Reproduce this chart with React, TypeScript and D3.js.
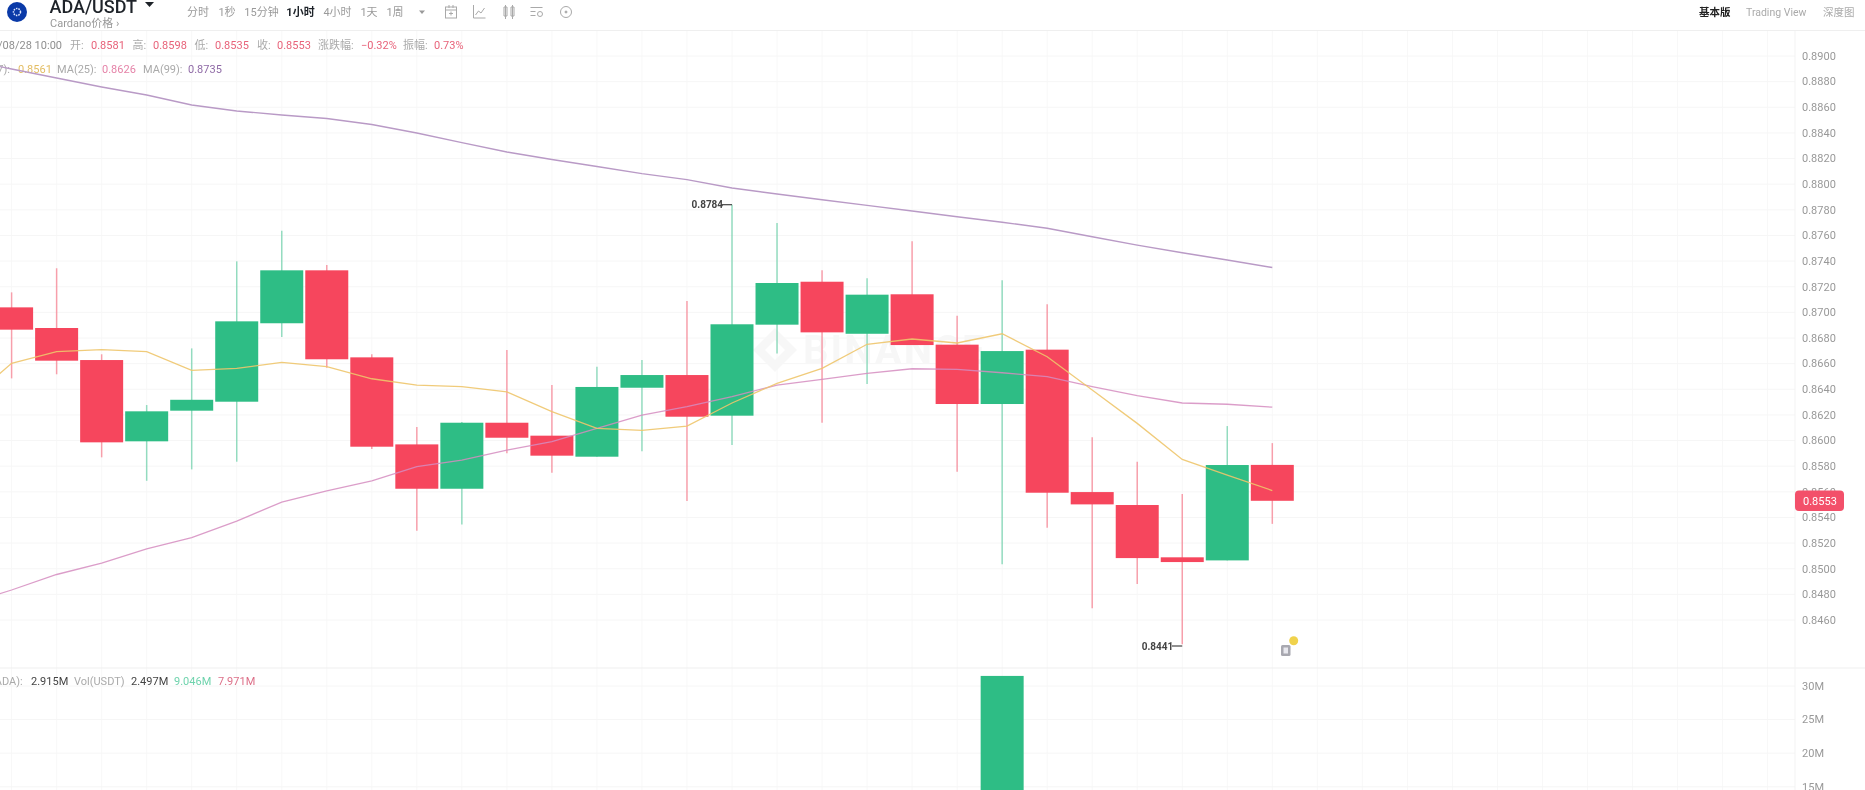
import React from "react";
import * as d3 from "d3";

const opens = [0.87039,0.86878,0.86628,0.85994,0.86233,0.86303,0.86915,0.87328,0.86649,0.8597,0.85624,0.86139,0.86038,0.85874,0.86412,0.86511,0.86194,0.86904,0.87239,0.86833,0.87141,0.86748,0.86285,0.86709,0.85598,0.85497,0.85089,0.85065,0.8581];
const highs = [0.87156,0.87344,0.86673,0.86277,0.86719,0.87398,0.87636,0.87369,0.86673,0.86105,0.86144,0.86706,0.86433,0.86576,0.86628,0.87089,0.8784,0.87697,0.87328,0.87266,0.87554,0.86974,0.8725,0.87063,0.86025,0.85835,0.85583,0.86113,0.8598];
const lows = [0.86485,0.86517,0.85869,0.85686,0.85775,0.85835,0.86808,0.86568,0.85934,0.85296,0.85346,0.859,0.85749,0.85874,0.85916,0.85528,0.85965,0.8668,0.86139,0.86441,0.86745,0.85757,0.85034,0.8532,0.84691,0.84881,0.8441,0.85065,0.8535];
const closes = [0.86865,0.86623,0.85986,0.86228,0.86318,0.8693,0.87328,0.86634,0.85952,0.85624,0.86139,0.86022,0.85882,0.86418,0.86511,0.86186,0.86907,0.87229,0.86844,0.87138,0.86745,0.86285,0.86698,0.85593,0.85502,0.85083,0.85052,0.85809,0.8553];
// moving averages start one candle before the first visible candle
const ma7 = [0.863,0.86602,0.86693,0.86709,0.86693,0.86548,0.86563,0.8661,0.86576,0.86482,0.86433,0.8642,0.86379,0.86225,0.86095,0.8608,0.86113,0.86293,0.86446,0.86563,0.86751,0.86792,0.86761,0.86833,0.86654,0.86394,0.86134,0.85853,0.85731,0.8561];
const ma25 = [0.84724,0.84834,0.84955,0.85044,0.85154,0.85242,0.85372,0.8552,0.85608,0.85686,0.85796,0.85848,0.85926,0.85991,0.86095,0.86199,0.86264,0.86342,0.86433,0.86478,0.86524,0.8656,0.86556,0.86529,0.86498,0.8642,0.8635,0.86293,0.86283,0.8626];
const ma99 = [0.88969,0.88899,0.88828,0.88758,0.88696,0.88618,0.88571,0.8854,0.88512,0.88466,0.88399,0.88324,0.88251,0.88193,0.88138,0.88082,0.88036,0.8797,0.87923,0.87879,0.87835,0.87791,0.87746,0.87703,0.87656,0.8759,0.87525,0.87465,0.87408,0.8735];
const priceTicks = [0.89,0.888,0.886,0.884,0.882,0.88,0.878,0.876,0.874,0.872,0.87,0.868,0.866,0.864,0.862,0.86,0.858,0.856,0.854,0.852,0.85,0.848,0.846];
const volumeTicks = [30,25,20,15];
const volumeIndex = [22];
const volumeValues = [31.5];
const intervals = ["分时","1秒","15分钟","1小时","4小时","1天","1周"];
const lastPrice = 0.8553;

const GREEN = "#2ebd85";
const RED = "#f6465d";
const FONT = "Roboto, 'Noto Sans CJK SC', sans-serif";

const x = d3.scaleLinear().domain([0, 28]).range([11.6, 1272.3]);
const y = d3.scaleLinear().domain([0.89, 0.846]).range([56, 620]);
const yVol = d3.scaleLinear().domain([30, 15]).range([686, 786.8]);
const BODY = 43;
const gridCols = d3.range(0, 40);

const lineGen = d3.line<number>().x((_, i) => x(i - 1)).y((d) => y(d));

type T = { x: number; y: number; s: string; c: string; w?: number; a?: string; fs?: number };
const texts: T[] = [
  { x: 62, y: 45, s: "5/08/28 10:00", c: "#8f8f8f", a: "end" },
  { x: 70, y: 45, s: "开:", c: "#aaaaaa" },
  { x: 91, y: 45, s: "0.8581", c: "#e8637a" },
  { x: 132.5, y: 45, s: "高:", c: "#aaaaaa" },
  { x: 153, y: 45, s: "0.8598", c: "#e8637a" },
  { x: 194.5, y: 45, s: "低:", c: "#aaaaaa" },
  { x: 215, y: 45, s: "0.8535", c: "#e8637a" },
  { x: 257, y: 45, s: "收:", c: "#aaaaaa" },
  { x: 277, y: 45, s: "0.8553", c: "#e8637a" },
  { x: 318, y: 45, s: "涨跌幅:", c: "#aaaaaa" },
  { x: 361, y: 45, s: "−0.32%", c: "#e8637a" },
  { x: 403, y: 45, s: "振幅:", c: "#aaaaaa" },
  { x: 434, y: 45, s: "0.73%", c: "#e8637a" },
  { x: 10, y: 69, s: "MA(7):", c: "#aaaaaa", a: "end" },
  { x: 18, y: 69, s: "0.8561", c: "#e3bd63" },
  { x: 57, y: 69, s: "MA(25):", c: "#aaaaaa" },
  { x: 102, y: 69, s: "0.8626", c: "#e583a8" },
  { x: 143, y: 69, s: "MA(99):", c: "#aaaaaa" },
  { x: 188, y: 69, s: "0.8735", c: "#8f6aa6" },
  { x: 22.7, y: 681.5, s: "Vol(ADA):", c: "#aaaaaa", a: "end" },
  { x: 31, y: 681.5, s: "2.915M", c: "#444444" },
  { x: 74, y: 681.5, s: "Vol(USDT)", c: "#aaaaaa" },
  { x: 131, y: 681.5, s: "2.497M", c: "#444444" },
  { x: 174, y: 681.5, s: "9.046M", c: "#6fd3ad" },
  { x: 218, y: 681.5, s: "7.971M", c: "#dd7089" },
  { x: 1699, y: 12, s: "基本版", c: "#222222", w: 700, fs: 10.5 },
  { x: 1746, y: 12, s: "Trading View", c: "#aaaaaa", fs: 10.5 },
  { x: 1823, y: 12, s: "深度图", c: "#aaaaaa", fs: 10.5 },
];
const intervalPos = [198, 227, 261.5, 300.5, 337.5, 369, 395];

export default function App() {
  return (
    <svg width={1865} height={790} style={{ position: "fixed", left: 0, top: 0, background: "#fff", filter: "blur(0.4px)" }} fontFamily={FONT}>
      {gridCols.map((i) => (
        <line key={i} x1={x(i)} x2={x(i)} y1={31} y2={790} stroke="#f8f8f8" />
      ))}
      {priceTicks.map((t) => (
        <line key={t} x1={0} x2={1795} y1={y(t)} y2={y(t)} stroke="#f6f6f6" />
      ))}
      {volumeTicks.map((t) => (
        <line key={t} x1={0} x2={1795} y1={yVol(t)} y2={yVol(t)} stroke="#f6f6f6" />
      ))}
      <line x1={0} x2={1865} y1={30.5} y2={30.5} stroke="#efefef" />
      <line x1={0} x2={1865} y1={668} y2={668} stroke="#efefef" />
      <line x1={1795} x2={1795} y1={31} y2={790} stroke="#f3f3f3" />

      {/* watermark */}
      <g fill="#f7f7f7">
        <path d="M775 328 l22 22 l-22 22 l-22 -22 z M775 340 l-10 10 l10 10 l10 -10 z" fillRule="evenodd" />
        <text x={803} y={364} fontSize={40} fontWeight={700} letterSpacing={2}>BINANCE</text>
      </g>

      {/* header */}
      <circle cx={17} cy={12} r={10} fill="#0a3aa8" />
      <circle cx={17} cy={12} r={3.5} fill="none" stroke="#dfe8ff" strokeWidth={1.5} strokeDasharray="1.5 1" />
      <text x={49.5} y={12.5} fontSize={18} fontWeight={500} fill="#1e2329">ADA/USDT</text>
      <path d="M145 2 h9 l-4.5 5 z" fill="#1e2329" />
      <text x={50} y={27} fontSize={11} fill="#999999">Cardano价格 ›</text>
      {intervals.map((s, i) => (
        <text key={s} x={intervalPos[i]} y={16} fontSize={11} textAnchor="middle" fontWeight={s === "1小时" ? 700 : 400} fill={s === "1小时" ? "#1e2329" : "#9a9a9a"}>{s}</text>
      ))}
      <path d="M419 10.5 h6 l-3 3.5 z" fill="#9a9a9a" />
      <g fill="none" stroke="#a9a9a9" strokeWidth={1}>
        <rect x={445.5} y={7} width={11} height={11} />
        <path d="M445.5 10 h11 M449 5 v3 M453 5 v3 M451 11.5 v4 M449 13.5 h4" />
        <path d="M473.5 5 v13 h12 M475.5 15 l3 -4 l2.5 2 l3.5 -5" />
        <path d="M504 7 h3 v9 h-3 z M505.5 5 v14 M511 7 h3 v9 h-3 z M512.5 5 v14" />
        <path d="M530.5 7.5 h12 M530.5 11.5 h5 M530.5 15.5 h5" />
        <circle cx={540} cy={14} r={2.5} />
        <circle cx={566} cy={12} r={5.5} />
        <circle cx={566} cy={12} r={1} fill="#a9a9a9" />
      </g>

      {texts.map((t, i) => (
        <text key={i} x={t.x} y={t.y} dy="0.35em" fontSize={t.fs ?? 11} fill={t.c} fontWeight={t.w ?? 400} textAnchor={(t.a as any) ?? "start"}>{t.s}</text>
      ))}

      {/* candles */}
      {opens.map((o, i) => {
        const c = closes[i];
        const col = c >= o ? GREEN : RED;
        return (
          <g key={i}>
            <line x1={x(i)} x2={x(i)} y1={y(highs[i])} y2={y(lows[i])} stroke={col} strokeOpacity={0.5} strokeWidth={1.5} />
            <rect x={x(i) - BODY / 2} width={BODY} y={y(Math.max(o, c))} height={Math.abs(y(o) - y(c))} fill={col} />
          </g>
        );
      })}

      {/* moving averages */}
      <path d={lineGen(ma25) ?? ""} fill="none" stroke="#d58cc0" strokeWidth={1.3} strokeOpacity={0.85} />
      <path d={lineGen(ma7) ?? ""} fill="none" stroke="#eec56c" strokeWidth={1.3} strokeOpacity={0.9} />
      <path d={lineGen(ma99) ?? ""} fill="none" stroke="#b99ac6" strokeWidth={1.4} />

      {/* high / low markers */}
      <text x={691.5} y={204} dy="0.35em" fontSize={10} fontWeight={700} fill="#444">0.8784</text>
      <line x1={721} x2={x(16)} y1={y(0.8784)} y2={y(0.8784)} stroke="#444" strokeWidth={1.2} />
      <text x={1141.7} y={646} dy="0.35em" fontSize={10} fontWeight={700} fill="#444">0.8441</text>
      <line x1={1172} x2={x(26)} y1={646} y2={646} stroke="#444" strokeWidth={1.2} />

      {/* floating badge */}
      <circle cx={1293.7} cy={640.7} r={4.5} fill="#f0d24c" />
      <rect x={1281} y={645} width={9.5} height={11} rx={1.5} fill="#a8a8b0" />
      <rect x={1283.5} y={647.5} width={4.5} height={6} fill="#e8e8ee" />

      {/* volume */}
      {volumeIndex.map((idx, k) => (
        <rect key={idx} x={x(idx) - BODY / 2} width={BODY} y={yVol(volumeValues[k])} height={790 - yVol(volumeValues[k])} fill={GREEN} />
      ))}

      {/* axes */}
      {priceTicks.map((t) => (
        <text key={t} x={1802} y={y(t)} dy="0.35em" fontSize={11} fill="#999999">{t.toFixed(4)}</text>
      ))}
      {volumeTicks.map((t) => (
        <text key={t} x={1802} y={yVol(t)} dy="0.35em" fontSize={11} fill="#999999">{t}M</text>
      ))}
      <rect x={1795} y={y(lastPrice) - 10.3} width={49} height={20.6} rx={4} fill="#f3506a" />
      <text x={1803} y={y(lastPrice)} dy="0.35em" fontSize={11} fill="#ffffff">{lastPrice.toFixed(4)}</text>
    </svg>
  );
}
